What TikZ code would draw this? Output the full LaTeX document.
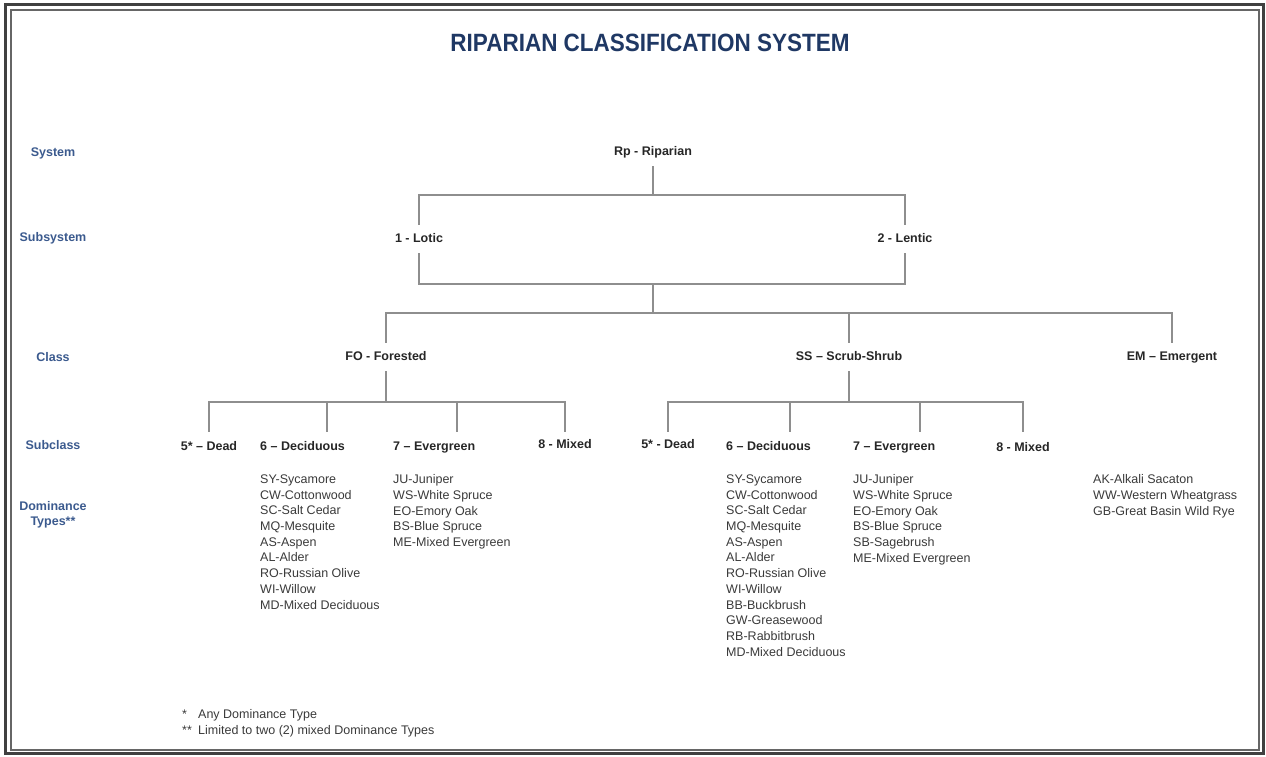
\documentclass[tikz,border=0pt]{standalone}
\usepackage{fontspec}
\setmainfont{Liberation Sans}
\usetikzlibrary{calc}
\definecolor{titleblue}{HTML}{1F3864}
\definecolor{sideblue}{HTML}{3B5A8E}
\definecolor{wiregray}{HTML}{8E8E8E}
\definecolor{listgray}{HTML}{3A3A3A}
\tikzset{
	lvl/.style={font=\fontsize{12.5}{15}\selectfont\bfseries, text=black!85, text height=9pt, text depth=2.5pt, inner xsep=1pt, inner ysep=8.5pt},
	side/.style={font=\fontsize{12.5}{15}\selectfont\bfseries, text=sideblue, align=center, inner sep=0pt},
	domlist/.style={font=\fontsize{12.5}{15.7}\selectfont, text=listgray, align=left, anchor=north west, inner sep=0pt},
	note/.style={font=\fontsize{12.5}{15}\selectfont, text=listgray, anchor=west, inner sep=0pt},
	wire/.style={draw=wiregray, line width=1.3pt},
}

\begin{document}
\begin{tikzpicture}[x=1pt, y=-1pt]
			%%%%% START %%%%%
			\useasboundingbox (0,0) rectangle (1266,756);
			
			\draw[line width=2.6pt, color=black!75] (5.5,4.5) rectangle (1263.5,753.5);
			\draw[line width=2pt, color=black!60] (10.5,9.5) rectangle (1259,749.5);
			
			\node[font=\fontsize{25}{29}\selectfont\bfseries, text=titleblue] (title) at (650,43) {\scalebox{0.9}[1]{RIPARIAN CLASSIFICATION SYSTEM}};
			
			\node[side] (sys) at (53,153) {System};
			\node[side] (subsys) at (53,238) {Subsystem};
			\node[side] (cls) at (53,357) {Class};
			\node[side] (subcls) at (53,445) {Subclass};
			\node[side] (dom) at (53,515) {Dominance\\Types**};
			
			\node[lvl] (rp) at (653,152) {Rp - Riparian};
			\node[lvl] (lotic) at (419,239) {1 - Lotic};
			\node[lvl] (lentic) at (905,239) {2 - Lentic};
			\node[lvl] (fo) at (386,357) {FO - Forested};
			\node[lvl] (ss) at (849,357) {SS -- Scrub-Shrub};
			\node[lvl] (em) at (1172,357) {EM -- Emergent};
			
			\coordinate (rpbus) at (653,195);
			\draw[wire] (rp) -- (rpbus);
			\draw[wire] (rpbus) -| (lotic);
			\draw[wire] (rpbus) -| (lentic);
			
			\coordinate (subbus) at (653,284);
			\coordinate (clsbus) at (653,313);
			\draw[wire] (lotic) |- (subbus);
			\draw[wire] (lentic) |- (subbus);
			\draw[wire] (subbus) -- (clsbus);
			\draw[wire] (clsbus) -| (fo);
			\draw[wire] (clsbus) -| (ss);
			\draw[wire] (clsbus) -| (em);
			
			% forested
			\coordinate (fobus) at (386,402);
			\coordinate (fo5) at (209,432);
			\coordinate (fo6) at (327,432);
			\coordinate (fo7) at (457,432);
			\coordinate (fo8) at (565,432);
			\draw[wire] (fo) -- (fobus);
			\foreach \t in {fo5,fo6,fo7,fo8}
				\draw[wire] (fobus) -| (\t);
			
			\node[lvl] (fodead) at (209,447) {5* -- Dead};
			\node[lvl, anchor=west] (fodec) at (259,447) {6 -- Deciduous};
			\node[lvl, anchor=west] (foever) at (392,447) {7 -- Evergreen};
			\node[lvl] (fomix) at (565,445) {8 - Mixed};
			
			\node[domlist] (fodeclist) at (260,474.5) {SY-Sycamore\\CW-Cottonwood\\SC-Salt Cedar\\MQ-Mesquite\\AS-Aspen\\AL-Alder\\RO-Russian Olive\\WI-Willow\\MD-Mixed Deciduous};
			\node[domlist] (foeverlist) at (393,474.5) {JU-Juniper\\WS-White Spruce\\EO-Emory Oak\\BS-Blue Spruce\\ME-Mixed Evergreen};
			
			% scrub-shrub
			\coordinate (ssbus) at (849,402);
			\coordinate (ss5) at (668,432);
			\coordinate (ss6) at (790,432);
			\coordinate (ss7) at (920,432);
			\coordinate (ss8) at (1023,432);
			\draw[wire] (ss) -- (ssbus);
			\foreach \t in {ss5,ss6,ss7,ss8}
				\draw[wire] (ssbus) -| (\t);
			
			\node[lvl] (ssdead) at (668,445) {5* - Dead};
			\node[lvl, anchor=west] (ssdec) at (725,447) {6 -- Deciduous};
			\node[lvl, anchor=west] (ssever) at (852,447) {7 -- Evergreen};
			\node[lvl] (ssmix) at (1023,448) {8 - Mixed};
			
			\node[domlist] (ssdeclist) at (726,474.5) {SY-Sycamore\\CW-Cottonwood\\SC-Salt Cedar\\MQ-Mesquite\\AS-Aspen\\AL-Alder\\RO-Russian Olive\\WI-Willow\\BB-Buckbrush\\GW-Greasewood\\RB-Rabbitbrush\\MD-Mixed Deciduous};
			\node[domlist] (sseverlist) at (853,474.5) {JU-Juniper\\WS-White Spruce\\EO-Emory Oak\\BS-Blue Spruce\\SB-Sagebrush\\ME-Mixed Evergreen};
			
			% emergent
			\node[domlist] (emlist) at (1093,474.5) {AK-Alkali Sacaton\\WW-Western Wheatgrass\\GB-Great Basin Wild Rye};
			
			\node[note] (note1) at (182,715) {\makebox[16pt][l]{*}Any Dominance Type};
			\node[note] (note2) at (182,731) {\makebox[16pt][l]{**}Limited to two (2) mixed Dominance Types};
			
			%%%%% END %%%%%
\end{tikzpicture}
\end{document}
